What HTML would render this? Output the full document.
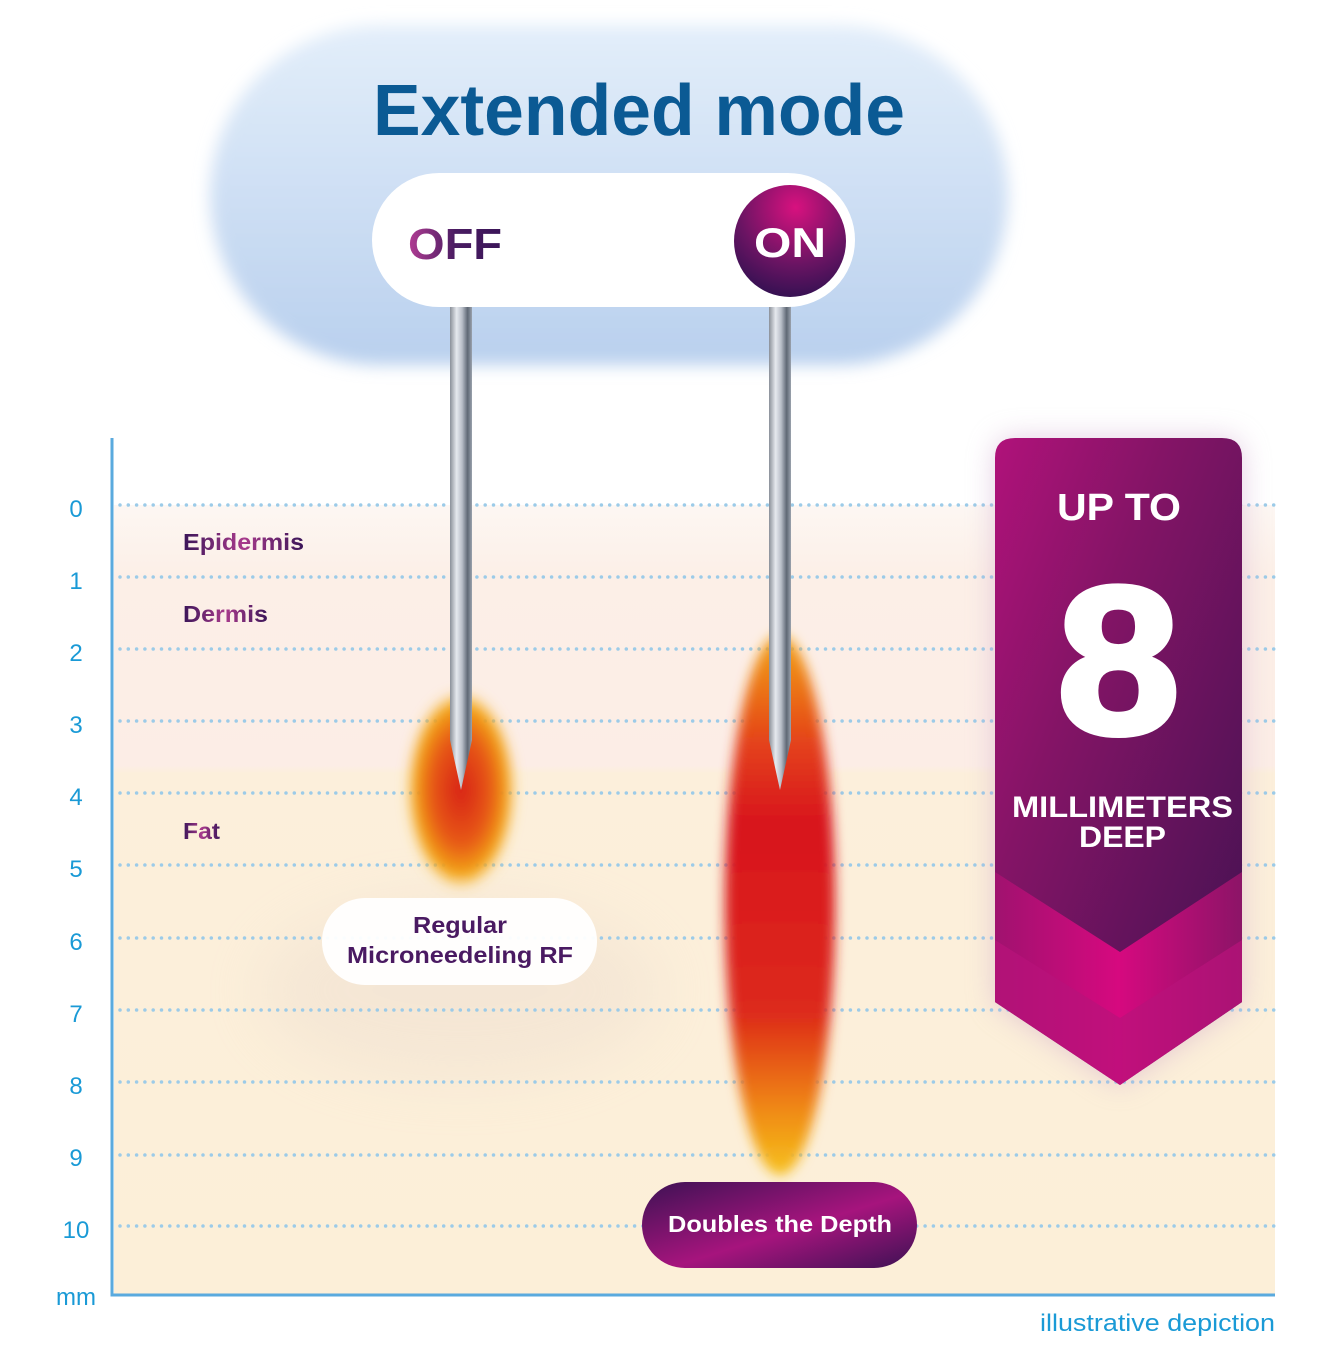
<!DOCTYPE html>
<html><head><meta charset="utf-8"><style>
html,body{margin:0;padding:0;background:#fff;}
svg{display:block;}
text{font-family:"Liberation Sans",sans-serif;font-weight:bold;}
</style></head><body>
<svg width="1319" height="1354" viewBox="0 0 1319 1354" xmlns="http://www.w3.org/2000/svg">
<defs>
<filter id="blur8" x="-20%" y="-20%" width="140%" height="140%"><feGaussianBlur stdDeviation="8"/></filter>
<filter id="blur14" x="-50%" y="-50%" width="200%" height="200%"><feGaussianBlur stdDeviation="14"/></filter>
<filter id="blur6" x="-50%" y="-50%" width="200%" height="200%"><feGaussianBlur stdDeviation="6"/></filter>
<filter id="blur30" x="-50%" y="-50%" width="200%" height="200%"><feGaussianBlur stdDeviation="30"/></filter>
<linearGradient id="cloud" x1="0" y1="0" x2="0" y2="1"><stop offset="0" stop-color="#e3eefa"/><stop offset="1" stop-color="#b9d0ee"/></linearGradient>
<linearGradient id="bg" x1="0" y1="0" x2="0" y2="1">
<stop offset="0" stop-color="#fdf7f3"/><stop offset="0.09" stop-color="#fcefe7"/><stop offset="0.33" stop-color="#fcede6"/><stop offset="0.34" stop-color="#fcefdb"/><stop offset="1" stop-color="#fcefd8"/></linearGradient>
<linearGradient id="txt" x1="0" y1="0" x2="1" y2="0"><stop offset="0" stop-color="#3a1558"/><stop offset="0.5" stop-color="#a83a8c"/><stop offset="1" stop-color="#3a1558"/></linearGradient>
<linearGradient id="off" x1="0" y1="0" x2="1" y2="0"><stop offset="0" stop-color="#b23d94"/><stop offset="0.5" stop-color="#4a1c62"/><stop offset="1" stop-color="#3a1558"/></linearGradient>
<radialGradient id="on" cx="0.55" cy="0.2" r="0.85"><stop offset="0" stop-color="#d8117f"/><stop offset="0.6" stop-color="#6a1463"/><stop offset="1" stop-color="#2e1050"/></radialGradient>
<linearGradient id="needle" x1="0" y1="0" x2="1" y2="0"><stop offset="0" stop-color="#8a9099"/><stop offset="0.3" stop-color="#e6e9ee"/><stop offset="0.55" stop-color="#b8bec8"/><stop offset="0.8" stop-color="#5f6875"/><stop offset="1" stop-color="#9aa2ad"/></linearGradient>
<radialGradient id="flameL" cx="0.5" cy="0.5" r="0.5"><stop offset="0" stop-color="#d8211a"/><stop offset="0.55" stop-color="#e75a14"/><stop offset="0.85" stop-color="#f3a514"/><stop offset="1" stop-color="#f7c64a" stop-opacity="0"/></radialGradient>
<linearGradient id="flameR" x1="0" y1="0" x2="0" y2="1"><stop offset="0" stop-color="#f3a514"/><stop offset="0.2" stop-color="#e4421a"/><stop offset="0.35" stop-color="#d8141a"/><stop offset="0.7" stop-color="#dd2a1a"/><stop offset="0.88" stop-color="#f08a14"/><stop offset="1" stop-color="#f6c21e"/></linearGradient>
<linearGradient id="badge" x1="0" y1="0" x2="1" y2="1"><stop offset="0" stop-color="#b0127a"/><stop offset="0.35" stop-color="#841466"/><stop offset="1" stop-color="#3e1250"/></linearGradient>
<linearGradient id="chev" x1="0" y1="0" x2="1" y2="0"><stop offset="0" stop-color="#a0126f"/><stop offset="0.5" stop-color="#d6097f"/><stop offset="1" stop-color="#8c1467"/></linearGradient>
<linearGradient id="dbl" x1="0" y1="0" x2="1" y2="1"><stop offset="0" stop-color="#3d1254"/><stop offset="0.55" stop-color="#a6147d"/><stop offset="1" stop-color="#3d1254"/></linearGradient>
</defs>

<rect x="114" y="505" width="1161" height="790" fill="url(#bg)"/>
<ellipse cx="460" cy="990" rx="200" ry="90" fill="#e8d8cc" opacity="0.35" filter="url(#blur30)"/>

<rect x="210" y="25" width="798" height="340" rx="170" fill="url(#cloud)" filter="url(#blur8)"/>
<text x="373" y="135" font-size="72" fill="#0b5a94" textLength="532" lengthAdjust="spacingAndGlyphs">Extended mode</text>

<g stroke="#9ccbe8" stroke-width="3.5" stroke-linecap="round" stroke-dasharray="0 8.3">
<line x1="120" y1="505" x2="1275" y2="505"/><line x1="120" y1="577" x2="1275" y2="577"/>
<line x1="120" y1="649" x2="1275" y2="649"/><line x1="120" y1="721" x2="1275" y2="721"/>
<line x1="120" y1="793" x2="1275" y2="793"/><line x1="120" y1="865" x2="1275" y2="865"/>
<line x1="120" y1="938" x2="1275" y2="938"/><line x1="120" y1="1010" x2="1275" y2="1010"/>
<line x1="120" y1="1082" x2="1275" y2="1082"/><line x1="120" y1="1155" x2="1275" y2="1155"/>
<line x1="120" y1="1226" x2="1275" y2="1226"/>
</g>

<path d="M112 438 V1295 H1275" fill="none" stroke="#5aaade" stroke-width="3"/>
<g font-size="24" fill="#1a9ad6" text-anchor="middle">
<text x="76" y="517" style="font-weight:normal">0</text><text x="76" y="589" style="font-weight:normal">1</text>
<text x="76" y="661" style="font-weight:normal">2</text><text x="76" y="733" style="font-weight:normal">3</text>
<text x="76" y="805" style="font-weight:normal">4</text><text x="76" y="877" style="font-weight:normal">5</text>
<text x="76" y="950" style="font-weight:normal">6</text><text x="76" y="1022" style="font-weight:normal">7</text>
<text x="76" y="1094" style="font-weight:normal">8</text><text x="76" y="1166" style="font-weight:normal">9</text>
<text x="76" y="1238" style="font-weight:normal">10</text><text x="76" y="1305" style="font-weight:normal">mm</text>
</g>
<text x="1040" y="1331" font-size="24" fill="#1a9ad6" textLength="235" lengthAdjust="spacingAndGlyphs" style="font-weight:normal">illustrative depiction</text>

<g font-size="23" fill="url(#txt)">
<text x="183" y="550" textLength="121" lengthAdjust="spacingAndGlyphs">Epidermis</text>
<text x="183" y="622" textLength="85" lengthAdjust="spacingAndGlyphs">Dermis</text>
<text x="183" y="839" textLength="37" lengthAdjust="spacingAndGlyphs">Fat</text>
</g>

<ellipse cx="461" cy="790" rx="55" ry="100" fill="url(#flameL)" filter="url(#blur6)"/>
<ellipse cx="780" cy="905" rx="55" ry="270" fill="url(#flameR)" filter="url(#blur6)"/>

<path d="M450 300 H472 V740 L461 790 L450 740 Z" fill="url(#needle)"/>
<path d="M769 300 H791 V740 L780 790 L769 740 Z" fill="url(#needle)"/>

<rect x="372" y="173" width="483" height="134" rx="67" fill="#ffffff"/>
<text x="408" y="259" font-size="44" fill="url(#off)" textLength="94" lengthAdjust="spacingAndGlyphs">OFF</text>
<circle cx="790" cy="241" r="56" fill="url(#on)"/>
<text x="754" y="257" font-size="42" fill="#ffffff" textLength="72" lengthAdjust="spacingAndGlyphs">ON</text>

<rect x="322" y="898" width="275" height="87" rx="43" fill="#ffffff" opacity="0.95"/>
<g font-size="23" fill="#4a1a62" text-anchor="middle">
<text x="460" y="933" textLength="94" lengthAdjust="spacingAndGlyphs">Regular</text>
<text x="460" y="963" textLength="226" lengthAdjust="spacingAndGlyphs">Microneedeling RF</text>
</g>

<rect x="642" y="1182" width="275" height="86" rx="43" fill="url(#dbl)"/>
<text x="668" y="1232" font-size="23" fill="#ffffff" textLength="224" lengthAdjust="spacingAndGlyphs">Doubles the Depth</text>

<path d="M995 458 Q995 438 1015 438 H1222 Q1242 438 1242 458 V1002 L1120 1085 L995 1002 Z" fill="#c9a0c8" opacity="0.5" filter="url(#blur14)"/>
<path d="M995 458 Q995 438 1015 438 H1222 Q1242 438 1242 458 V1002 L1120 1085 L995 1002 Z" fill="url(#badge)"/>
<path d="M995 872 L1120 952 L1242 872 V1002 L1120 1085 L995 1002 Z" fill="url(#chev)"/>
<path d="M995 940 L1120 1018 L1242 940 V1002 L1120 1085 L995 1002 Z" fill="#b8127a" opacity="0.7"/>
<g fill="#ffffff">
<text x="1057" y="520" font-size="38" textLength="124" lengthAdjust="spacingAndGlyphs">UP TO</text>
<text x="1057" y="733" font-size="210" stroke="#fff" stroke-width="6" textLength="123" lengthAdjust="spacingAndGlyphs">8</text>
<text x="1012" y="817" font-size="30" textLength="221" lengthAdjust="spacingAndGlyphs">MILLIMETERS</text>
<text x="1079" y="847" font-size="30" textLength="87" lengthAdjust="spacingAndGlyphs">DEEP</text>
</g>
</svg>
</body></html>
